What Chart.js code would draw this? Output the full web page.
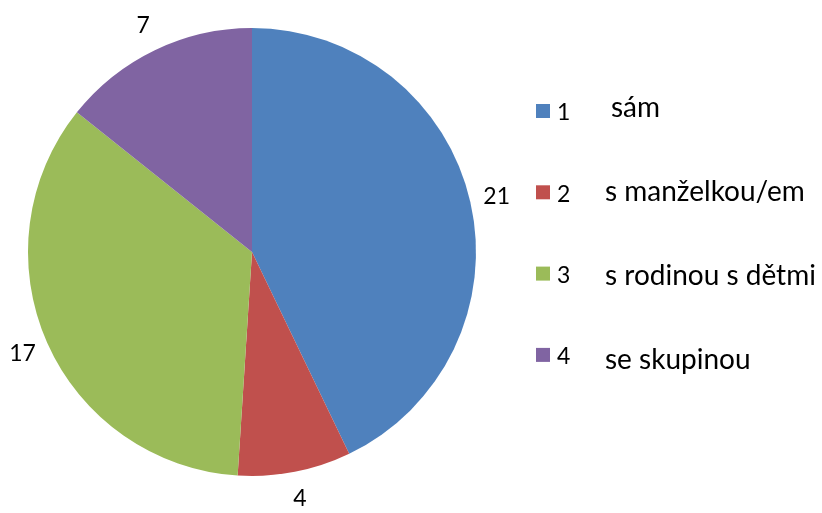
<!DOCTYPE html>
<html><head><meta charset="utf-8">
<script src="https://cdn.jsdelivr.net/npm/chart.js@4/dist/chart.umd.min.js"></script>
<style>html,body{margin:0;padding:0;background:#fff;overflow:hidden}#wrap{width:822px;height:513px;position:relative}</style>
</head><body><div id="wrap"><canvas id="c" width="822" height="513"></canvas></div>
<script>
const categories = ['1', '2', '3', '4'];
const categoryNames = ['sám', 's manželkou/em', 's rodinou s dětmi', 'se skupinou'];
const values = [21, 4, 17, 7];
const colors = ['#4F81BD', '#C0504D', '#9BBB59', '#8064A2'];

const outLabels = {
  id: 'outLabels',
  afterDatasetsDraw(chart) {
    const ctx = chart.ctx;
    const meta = chart.getDatasetMeta(0);
    ctx.save();
    ctx.font = '23px Lato';
    ctx.fillStyle = '#000';
    ctx.textAlign = 'center';
    ctx.textBaseline = 'middle';
    meta.data.forEach((arc, i) => {
      const p = arc.getProps(['x', 'y', 'startAngle', 'endAngle', 'outerRadius'], true);
      const a = (p.startAngle + p.endAngle) / 2;
      const d = p.outerRadius + 27;
      ctx.fillText(String(chart.data.datasets[0].data[i]), p.x + Math.cos(a) * d, p.y + Math.sin(a) * d);
    });
    ctx.restore();
  }
};

const customLegend = {
  id: 'customLegend',
  afterDraw(chart) {
    const ctx = chart.ctx;
    ctx.save();
    ctx.textBaseline = 'middle';
    ctx.textAlign = 'left';
    chart.data.labels.forEach((lab, i) => {
      const cy = 111 + i * 81.3;
      ctx.fillStyle = colors[i];
      ctx.fillRect(536, cy - 7, 14, 14);
      ctx.fillStyle = '#000';
      ctx.font = '23px Lato';
      ctx.fillText(lab, 557, cy + 2);
      ctx.font = '28px Lato';
      ctx.fillText(categoryNames[i], i === 0 ? 611 : 605, 108 + i * 84);
    });
    ctx.restore();
  }
};

new Chart(document.getElementById('c'), {
  type: 'pie',
  data: {
    labels: categories,
    datasets: [{ data: values, backgroundColor: colors, borderWidth: 0 }]
  },
  options: {
    responsive: false,
    animation: false,
    layout: { padding: { left: 28, top: 28, right: 346, bottom: 37 } },
    plugins: { legend: { display: false }, tooltip: { enabled: false } }
  },
  plugins: [outLabels, customLegend]
});
</script>
</body></html>
